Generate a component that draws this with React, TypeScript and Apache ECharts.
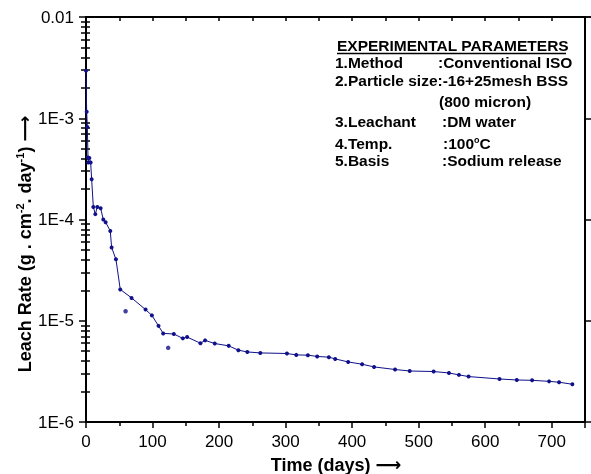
import React, { useEffect, useRef } from "react";
import * as echarts from "echarts";

const days = [0, 1, 2, 3, 3.5, 5, 7, 8.5, 11, 14, 17, 22, 26, 29.5, 36.5, 38.5, 45, 51.5, 68.5, 89.5, 99, 109, 116, 132, 145.5, 152, 172, 179, 193.5, 214.5, 229, 242.5, 262, 302, 316, 333.5, 347.5, 365, 374.5, 394, 415, 433, 464.5, 486.5, 522.5, 545.5, 560.5, 575, 621.5, 647.5, 670.5, 696, 711, 731];
const rates = [2.94e-3, 1.16e-3, 8.2e-4, 4.1e-4, 3.65e-4, 4.05e-4, 3.65e-4, 2.5e-4, 1.33e-4, 1.13e-4, 1.33e-4, 1.29e-4, 1.0e-4, 9.4e-5, 7.7e-5, 5.3e-5, 4.04e-5, 2.04e-5, 1.68e-5, 1.29e-5, 1.13e-5, 8.9e-6, 7.5e-6, 7.4e-6, 6.7e-6, 6.9e-6, 6.0e-6, 6.4e-6, 5.96e-6, 5.65e-6, 5.12e-6, 4.92e-6, 4.81e-6, 4.75e-6, 4.6e-6, 4.57e-6, 4.44e-6, 4.37e-6, 4.2e-6, 3.92e-6, 3.72e-6, 3.5e-6, 3.3e-6, 3.19e-6, 3.15e-6, 3.05e-6, 2.92e-6, 2.81e-6, 2.66e-6, 2.6e-6, 2.58e-6, 2.52e-6, 2.47e-6, 2.36e-6];
const outlierDays = [59.5, 123.5];
const outlierRates = [1.24e-5, 5.4e-6];

const yTickLabels: Record<string, string> = { "-2": "0.01", "-3": "1E-3", "-4": "1E-4", "-5": "1E-5", "-6": "1E-6" };
const decades = [-6, -5, -4, -3];
const minorMultipliers = [2, 3, 4, 5, 6, 7, 8, 9];
const X_MIN = 0;
const X_MAX = 750;
const Y_MIN_EXP = -6;
const Y_MAX_EXP = -2;

const paramTitle = "EXPERIMENTAL PARAMETERS";
const paramKeys = ["1.Method", "", "", "3.Leachant", "4.Temp.", "5.Basis"];
const paramValues = [":Conventional ISO", "2.Particle size:-16+25mesh BSS", "(800 micron)", ":DM water", ":100{sup|o}C", ":Sodium release"];

const FONT = "'Liberation Sans', Arial, 'DejaVu Sans', sans-serif";
const NAVY = "#10108a";

export default function App() {
  const ref = useRef<HTMLDivElement>(null);
  useEffect(() => {
    document.body.style.margin = "0";
    const chart = echarts.init(ref.current!, null, { renderer: "svg" });
    const minorExps: number[] = [];
    decades.forEach((d) => minorMultipliers.forEach((m) => minorExps.push(d + Math.log10(m))));

    const paramY = [62, 80, 101, 121, 143, 160];
    const valueX = [438, 335, 439, 442, 443, 442];
    const PF = `bold 15.5px ${FONT}`;
    const graphics: any[] = [
      {
        type: "text", x: 337, y: 45,
        style: { text: paramTitle, font: PF, fill: "#000", verticalAlign: "middle", align: "left" },
      },
      { type: "line", shape: { x1: 337, y1: 53.5, x2: 566, y2: 53.5 }, style: { stroke: "#000", lineWidth: 1.5 } },
    ];
    paramKeys.forEach((k, i) => {
      if (k) graphics.push({
        type: "text", x: 335, y: paramY[i],
        style: { text: k, font: PF, fill: "#000", verticalAlign: "middle", align: "left" },
      });
      graphics.push({
        type: "text", x: valueX[i], y: paramY[i],
        style: {
          text: paramValues[i], font: PF, fill: "#000", verticalAlign: "middle", align: "left",
          rich: { sup: { font: `bold 9px ${FONT}`, verticalAlign: "top", lineHeight: 16, fill: "#000" } },
        },
      });
    });
    graphics.push({
      type: "text", x: 336, y: 465,
      style: { text: "Time (days) ⟶", font: `bold 18px ${FONT}`, fill: "#000", align: "center", verticalAlign: "middle" },
    });
    graphics.push({
      type: "text", x: 25, y: 244, rotation: Math.PI / 2,
      style: {
        text: "Leach Rate (g . cm{sup|-2}. day{sup|-1}) ⟶", font: `bold 18px ${FONT}`, fill: "#000",
        align: "center", verticalAlign: "middle",
        rich: { sup: { font: `bold 11px ${FONT}`, verticalAlign: "top", lineHeight: 21, fill: "#000" } },
      },
    });

    const axisLine = { show: true, onZero: false, lineStyle: { color: "#000", width: 2 } };
    const tickStyle = { color: "#000", width: 1.5 };
    const minorAxis = (position: string, length: number) => ({
      type: "value", min: Y_MIN_EXP, max: Y_MAX_EXP, position,
      axisLine: { show: false },
      axisTick: { show: true, inside: false, length, customValues: minorExps, lineStyle: tickStyle },
      axisLabel: { show: false },
      splitLine: { show: false },
    });

    chart.setOption({
      animation: false,
      grid: { left: 86, right: 6, top: 17, bottom: 52 },
      xAxis: [
        {
          type: "value", min: X_MIN, max: X_MAX, interval: 100, position: "bottom",
          axisLine,
          axisTick: { show: true, inside: false, length: 6, lineStyle: tickStyle },
          minorTick: { show: true, splitNumber: 2, length: 4, lineStyle: tickStyle },
          axisLabel: {
            color: "#000", fontSize: 17, fontFamily: FONT, margin: 11,
            formatter: (v: number) => (v % 100 === 0 && v < X_MAX ? String(v) : ""),
          },
          splitLine: { show: false },
        },
        {
          type: "value", min: X_MIN, max: X_MAX, interval: 50, position: "top",
          axisLine,
          axisTick: { show: true, inside: true, length: 4, lineStyle: tickStyle },
          axisLabel: { show: false },
          splitLine: { show: false },
        },
      ],
      yAxis: [
        {
          type: "log", logBase: 10, min: 1e-6, max: 1e-2, position: "left",
          axisLine,
          axisTick: { show: true, inside: false, length: 7, lineStyle: tickStyle },
          axisLabel: {
            color: "#000", fontSize: 17, fontFamily: FONT, margin: 12,
            formatter: (v: number) => yTickLabels[String(Math.round(Math.log10(v)))] ?? "",
          },
          splitLine: { show: false },
        },
        {
          type: "log", logBase: 10, min: 1e-6, max: 1e-2, position: "right",
          axisLine,
          axisTick: { show: true, inside: false, length: 6, lineStyle: tickStyle },
          axisLabel: { show: false },
          splitLine: { show: false },
        },
        minorAxis("left", 5),
        minorAxis("right", 4),
      ],
      series: [
        {
          type: "line", xAxisIndex: 0, yAxisIndex: 0,
          data: days.map((d, i) => [d, rates[i]]),
          symbol: "circle", symbolSize: 4, showSymbol: true,
          lineStyle: { color: NAVY, width: 1 },
          itemStyle: { color: NAVY },
          z: 3,
        },
        {
          type: "scatter", xAxisIndex: 0, yAxisIndex: 0,
          data: outlierDays.map((d, i) => [d, outlierRates[i]]),
          symbol: "circle", symbolSize: 4.5,
          itemStyle: { color: NAVY },
          z: 3,
        },
      ],
      graphic: graphics,
    });
    return () => chart.dispose();
  }, []);
  return <div ref={ref} style={{ position: "fixed", left: 0, top: 0, width: 591, height: 474 }} />;
}
